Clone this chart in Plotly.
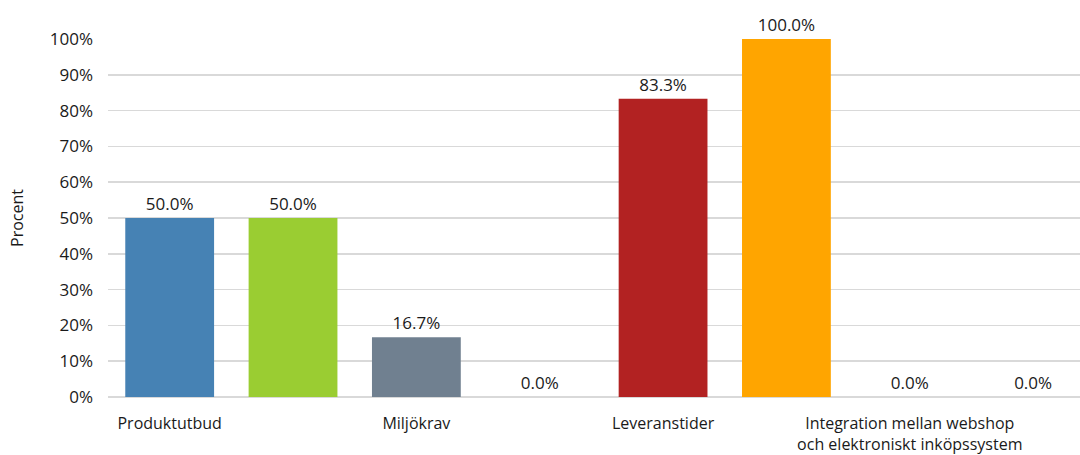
import plotly.graph_objects as go

# Data
categories = ["Produktutbud", "", "Miljökrav", "", "Leveranstider", "",
              "Integration mellan webshop<br>och elektroniskt inköpssystem", ""]
values = [0.50, 0.50, 0.167, 0.0, 0.833, 1.00, 0.0, 0.0]
colors = ["#4682B4", "#9ACD32", "#708090", "#5F9EA0", "#B22222", "#FFA500", "#6A5ACD", "#2E8B57"]
y_ticks = [0, 0.1, 0.2, 0.3, 0.4, 0.5, 0.6, 0.7, 0.8, 0.9, 1.0]

x_pos = list(range(len(categories)))
shown = [i for i, c in enumerate(categories) if c]

font_family = "Open Sans, Noto Sans, sans-serif"

fig = go.Figure(go.Bar(
    x=x_pos,
    y=values,
    marker=dict(color=colors, line=dict(width=0)),
    texttemplate="%{y:.1%}",
    textposition="outside",
    textfont=dict(family=font_family, size=17, color="#1a1a1a"),
    cliponaxis=False,
    showlegend=False,
))

fig.update_layout(
    width=1080,
    height=455,
    margin=dict(l=108, r=0, t=39, b=58),
    paper_bgcolor="white",
    plot_bgcolor="white",
    bargap=0.28,
    font=dict(family=font_family, size=16, color="#1a1a1a"),
    xaxis=dict(
        range=[-0.5, 7.38],
        tickmode="array",
        tickvals=[x_pos[i] for i in shown],
        ticktext=[categories[i] for i in shown],
        showgrid=False,
        zeroline=False,
        showline=False,
        ticks="",
        ticklabelstandoff=15,
        tickfont=dict(size=16),
        automargin=False,
        fixedrange=True,
    ),
    yaxis=dict(
        range=[0, 1.0],
        tickmode="array",
        tickvals=y_ticks,
        tickformat=".0%",
        showgrid=True,
        gridcolor="#D9D9D9",
        gridwidth=1.5,
        zeroline=True,
        zerolinecolor="#D9D9D9",
        zerolinewidth=1.5,
        showline=False,
        ticks="",
        ticklabelstandoff=14,
        tickfont=dict(size=17),
        automargin=False,
        fixedrange=True,
        title=dict(text="Procent", font=dict(size=16), standoff=22),
    ),
)

fig.write_html(
    "out.html",
    config={"displayModeBar": False, "staticPlot": True},
    post_script="document.body.style.margin='0';document.body.style.overflow='hidden';",
)
